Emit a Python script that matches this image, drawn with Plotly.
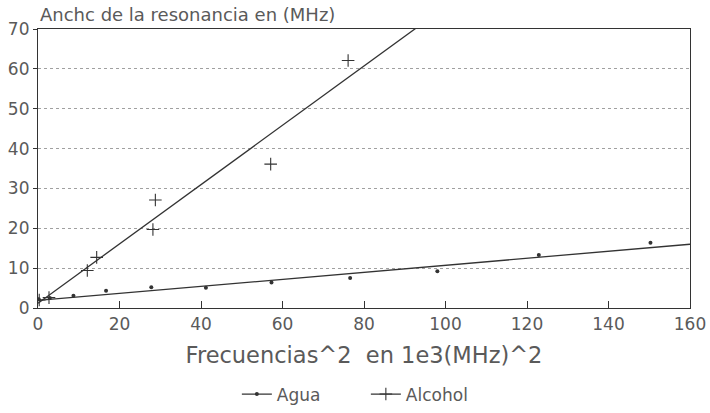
import plotly.graph_objects as go

# Data
agua_x = [0.2, 2.9, 8.7, 16.7, 27.8, 41.2, 57.3, 76.6, 98.0, 122.9, 150.3]
agua_y = [2.2, 2.5, 3.1, 4.3, 5.2, 5.1, 6.4, 7.5, 9.2, 13.3, 16.4]

alcohol_x = [0.3, 2.7, 12.1, 14.4, 28.2, 28.8, 57.1, 76.1]
alcohol_y = [2.0, 2.6, 9.4, 12.7, 19.7, 27.1, 36.1, 62.1]

# Fitted straight lines (end points)
agua_fit_x = [0, 160]
agua_fit_y = [1.9, 16.0]
alcohol_fit_x = [0, 100]
alcohol_fit_y = [1.2, 75.6]

x_ticks = [0, 20, 40, 60, 80, 100, 120, 140, 160]
y_ticks = [0, 10, 20, 30, 40, 50, 60, 70]

FONT = "DejaVu Sans"
TXT = "#5a5a5a"
INK = "#333333"

fig = go.Figure()

fig.add_trace(go.Scatter(x=agua_fit_x, y=agua_fit_y, mode="lines",
                         line=dict(color=INK, width=1.3), showlegend=False, hoverinfo="skip"))
fig.add_trace(go.Scatter(x=alcohol_fit_x, y=alcohol_fit_y, mode="lines",
                         line=dict(color=INK, width=1.3), showlegend=False, hoverinfo="skip"))
fig.add_trace(go.Scatter(x=agua_x, y=agua_y, mode="markers",
                         marker=dict(symbol="circle", size=4, color=INK), showlegend=False))
fig.add_trace(go.Scatter(x=alcohol_x, y=alcohol_y, mode="markers",
                         marker=dict(symbol="cross-thin", size=9, line=dict(color=INK, width=1.1)),
                         showlegend=False))

# Legend entries
fig.add_trace(go.Scatter(x=[None], y=[None], mode="lines+markers", name="Agua",
                         line=dict(color=INK, width=1.2),
                         marker=dict(symbol="circle", size=4, color=INK)))
fig.add_trace(go.Scatter(x=[None], y=[None], mode="lines+markers", name="Alcohol",
                         line=dict(color=INK, width=1.2),
                         marker=dict(symbol="cross-thin", size=9, line=dict(color=INK, width=1.1))))

fig.update_layout(
    width=710, height=413,
    margin=dict(l=38, r=20, t=29, b=105, autoexpand=False),
    paper_bgcolor="white", plot_bgcolor="white",
    font=dict(family=FONT, color=TXT, size=16),
    showlegend=True,
    legend=dict(orientation="h", x=0.305, xanchor="left", y=-0.31, yanchor="middle",
                entrywidth=84, entrywidthmode="pixels",
                font=dict(size=17, color=TXT)),
    xaxis=dict(range=[0, 160], tickvals=x_ticks, ticks="inside", ticklen=7,
               tickcolor=INK, showgrid=False, zeroline=False, automargin=False,
               showline=True, linecolor=INK, linewidth=1.2, mirror=True,
               tickfont=dict(size=17, color=TXT),
               title=dict(text="Frecuencias^2\u00a0\u00a0en 1e3(MHz)^2",
                          font=dict(size=22.5, color=TXT), standoff=14)),
    yaxis=dict(range=[0, 70], tickvals=y_ticks, ticks="outside", ticklen=4,
               tickcolor=INK, showgrid=True, gridcolor="#a0a0a0", griddash="dot",
               gridwidth=1, zeroline=False, automargin=False,
               showline=True, linecolor=INK, linewidth=1.2, mirror=True,
               tickfont=dict(size=17, color=TXT)),
    annotations=[dict(text="Anchc de la resonancia en (MHz)", xref="paper", yref="paper",
                      x=0, y=1, xanchor="left", yanchor="bottom", yshift=2, showarrow=False,
                      font=dict(size=18, color=TXT))],
)

fig.write_html("out.html", config={"displayModeBar": False},
               post_script="document.body.style.margin='0px';")
